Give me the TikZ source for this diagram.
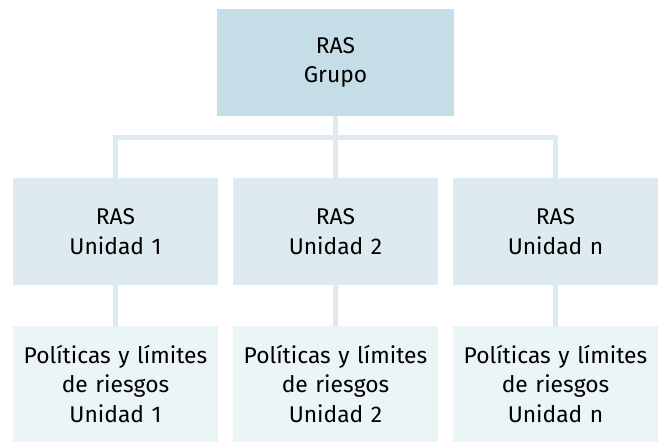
\documentclass[tikz,border=0pt]{standalone}
\usepackage{fontspec}
\setmainfont{Fira Sans}
\definecolor{topfill}{RGB}{197,221,230}
\definecolor{midfill}{RGB}{221,235,241}
\definecolor{lowfill}{RGB}{235,244,247}
\definecolor{connc}{RGB}{221,235,241}
\begin{document}
\begin{tikzpicture}[x=1pt,y=-1pt,
  box/.style={draw=none, inner sep=0pt, align=center, text=black,
    font=\fontsize{22.8}{29.5}\selectfont, text width=205pt},
  topbox/.style={box, fill=topfill, minimum width=237pt, minimum height=107pt, text width=237pt},
  midbox/.style={box, fill=midfill, minimum width=205pt, minimum height=107pt},
  lowbox/.style={box, fill=lowfill, minimum width=205pt, minimum height=116pt},
  conn/.style={draw=connc, line width=5pt}]
\useasboundingbox (0,0) rectangle (660,443);
\node[topbox] (top) at (335.5,62.5) {RAS\\Grupo};
\node[midbox] (m1) at (115.5,231.5) {RAS\\Unidad 1};
\node[midbox] (m2) at (335.5,231.5) {RAS\\Unidad 2};
\node[midbox] (m3) at (555.5,231.5) {RAS\\Unidad n};
\node[lowbox] (p1) at (115.5,384) {Políticas y límites\\de riesgos\\Unidad 1};
\node[lowbox] (p2) at (335.5,384) {Políticas y límites\\de riesgos\\Unidad 2};
\node[lowbox] (p3) at (555.5,384) {Políticas y límites\\de riesgos\\Unidad n};
\coordinate (bar) at (335.5,137.5);
\draw[conn] (top.south) -- (m2.north);
\draw[conn] (m1.north) |- (bar) -| (m3.north);
\draw[conn] (m1.south) -- (p1.north);
\draw[conn] (m2.south) -- (p2.north);
\draw[conn] (m3.south) -- (p3.north);
\end{tikzpicture}
\end{document}
